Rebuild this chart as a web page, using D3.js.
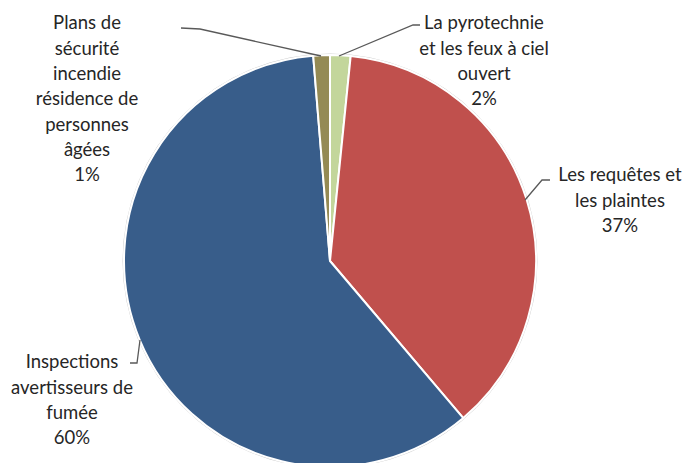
<!DOCTYPE html>
<html>
<head>
<meta charset="utf-8">
<script src="https://cdn.jsdelivr.net/npm/d3@7"></script>
<style>
  body { margin: 0; background: #fff; }
  svg { display: block; }
</style>
</head>
<body>
<div id="chart"></div>
<script>
// Slice data, in drawing order (clockwise from 12 o'clock)
const categories = [
  "La pyrotechnie et les feux à ciel ouvert",
  "Les requêtes et les plaintes",
  "Inspections avertisseurs de fumée",
  "Plans de sécurité incendie résidence de personnes âgées"
];
const values = [1.6, 37.2, 59.9, 1.3];
const colors = ["#c3d69b", "#c0504d", "#385d8a", "#948a54"];
// Label lines as wrapped in the chart
const labelLines = [
  ["La pyrotechnie", "et les feux à ciel", "ouvert"],
  ["Les requêtes et", "les plaintes"],
  ["Inspections", "avertisseurs de", "fumée"],
  ["Plans de", "sécurité", "incendie", "résidence de", "personnes", "âgées"]
];

const width = 687, height = 463;
const cx = 330, cy = 261, radius = 206;

const svg = d3.select("#chart").append("svg")
  .attr("width", width)
  .attr("height", height);

const g = svg.append("g").attr("transform", `translate(${cx},${cy})`);

const pie = d3.pie().sort(null).value(d => d.value);
const arc = d3.arc().innerRadius(0).outerRadius(radius);

const data = categories.map((c, i) => ({ name: c, value: values[i], color: colors[i], lines: labelLines[i] }));
const arcs = pie(data);

// faint outer edge
g.append("circle")
  .attr("r", radius + 1)
  .attr("fill", "none")
  .attr("stroke", "#d0d0d0")
  .attr("stroke-width", 1);

g.selectAll("path.slice")
  .data(arcs)
  .enter().append("path")
  .attr("class", "slice")
  .attr("d", arc)
  .attr("fill", d => d.data.color)
  .attr("stroke", "#fff")
  .attr("stroke-width", 2);

// Label placement (centre of text block, first line)
const labelPos = [
  { x: 484, y: 23 },
  { x: 620, y: 175 },
  { x: 72, y: 362 },
  { x: 87, y: 23 }
];
const lineH = 25.3;

const total = d3.sum(values);
const labels = svg.append("g")
  .style("font-family", "Lato, 'Open Sans', sans-serif")
  .style("font-size", "18.5px")
  .style("fill", "#262626");

data.forEach((d, i) => {
  const lines = d.lines.concat([Math.round(d.value / total * 100) + "%"]);
  const t = labels.append("text")
    .attr("text-anchor", "middle");
  lines.forEach((ln, j) => {
    t.append("tspan")
      .attr("x", labelPos[i].x)
      .attr("y", labelPos[i].y + j * lineH)
      .attr("dy", "0.35em")
      .text(ln);
  });
});

// Leader lines: start on the slice edge, end near the label
const leaders = [
  [[339, 56], [413, 25], [420, 25]],
  [[525, 200], [542, 180], [550, 180]],
  [[140, 340], [137, 363], [130, 363]],
  [[321, 56], [200, 29], [181, 28]]
];
const lineGen = d3.line();
svg.append("g").selectAll("path")
  .data(leaders)
  .enter().append("path")
  .attr("d", lineGen)
  .attr("fill", "none")
  .attr("stroke", "#595959")
  .attr("stroke-width", 1.3);
</script>
</body>
</html>
